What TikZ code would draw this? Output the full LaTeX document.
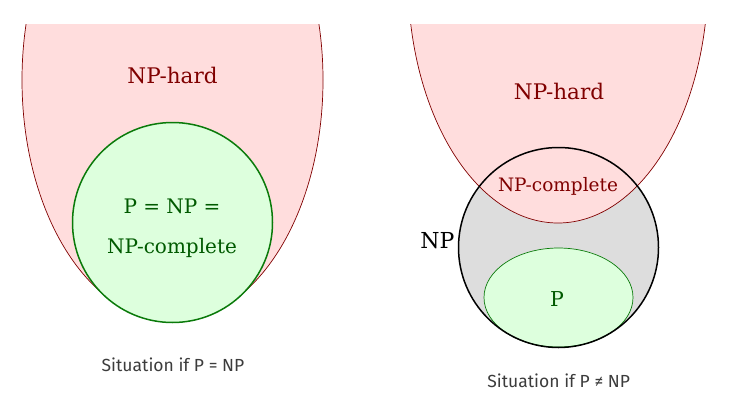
\documentclass[tikz,border=0pt]{standalone}
\usepackage{fontspec}
\setmainfont{DejaVu Serif}
\newfontfamily\capfont{Fira Sans}
\usepackage{xcolor}
\usetikzlibrary{positioning}
\definecolor{hardfill}{HTML}{FFDDDD}
\definecolor{hardline}{HTML}{800000}
\definecolor{pfill}{HTML}{DDFFDD}
\definecolor{pline}{HTML}{0A7A0A}
\definecolor{ptext}{HTML}{005A00}
\definecolor{npfill}{HTML}{DDDDDD}
\definecolor{captext}{HTML}{3C3C3C}

\begin{document}
\begin{tikzpicture}[
  x=1pt, y=-1pt,
  hardset/.style={fill=hardfill, draw=hardline, line width=0.7pt},
  pset/.style={fill=pfill, draw=pline},
  label/.style={anchor=base, inner sep=0pt},
  hardtext/.style={label, text=hardline},
  ptxt/.style={label, text=ptext},
  caption/.style={label, text=captext, font=\capfont\fontsize{17.5}{17.5}\selectfont}
]
  \useasboundingbox (0,0) rectangle (733,407);

  % Left: P = NP
  \begin{scope}
    \clip (0,24) rectangle (366,407);
    \draw[hardset] (172.5,80) ellipse [x radius=150.5pt, y radius=241pt];
  \end{scope}
  \draw[pset, line width=1.5pt] (172.5,222.5) circle [radius=100pt];

  % Right: P != NP
  \fill[npfill] (558.5,247.5) circle [radius=100pt];
  \begin{scope}
    \clip (366,24) rectangle (733,407);
    \draw[hardset] (558,-23) ellipse [x radius=150pt, y radius=246pt];
  \end{scope}
  \draw[pset, line width=0.7pt] (558.5,297.5) ellipse [x radius=74.5pt, y radius=49.5pt];
  \draw[line width=1.5pt] (558.5,247.5) circle [radius=100pt];

  % Labels
  \node[hardtext, font=\fontsize{21.5}{21.5}\selectfont] (hardL) at (172.5,83.3) {NP-hard};
  \node[ptxt, font=\fontsize{20}{20}\selectfont] (eqL) at (172,213.3) {P = NP =};
  \node[ptxt, font=\fontsize{20}{20}\selectfont] (compL) at (172,253.3) {NP-complete};
  \node[hardtext, font=\fontsize{21.5}{21.5}\selectfont] (hardR) at (559,99) {NP-hard};
  \node[hardtext, font=\fontsize{18.5}{18.5}\selectfont] (compR) at (558,191.7) {NP-complete};
  \node[label, font=\fontsize{22}{22}\selectfont] (np) at (437.5,248.3) {NP};
  \node[ptxt, font=\fontsize{20.5}{20.5}\selectfont] (p) at (557,306.7) {P};

  % Captions
  \node[caption] (capL) at (173,371) {Situation if P = NP};
  \node[caption] (capR) at (558.7,387.3) {Situation if P ≠ NP};
\end{tikzpicture}
\end{document}
